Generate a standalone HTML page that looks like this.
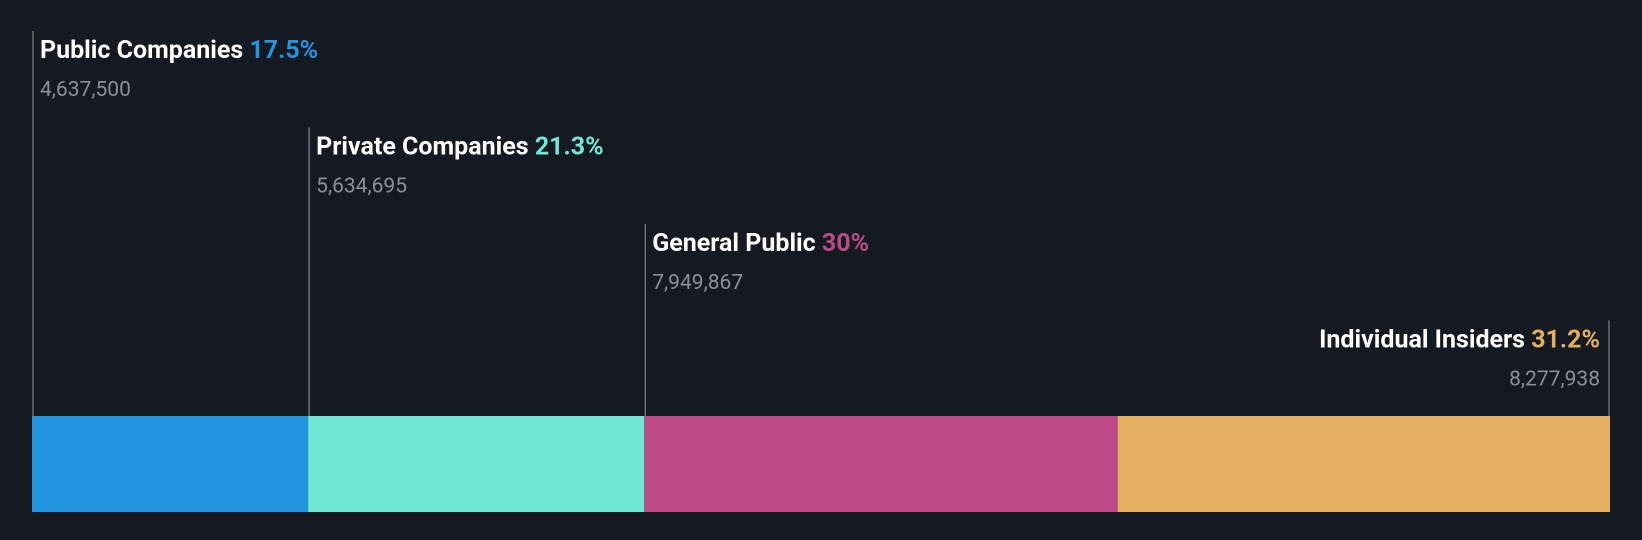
<!DOCTYPE html>
<html><head><meta charset="utf-8"><style>
html,body{margin:0;padding:0;background:#151a22;}
svg{display:block;font-family:"Roboto","Liberation Sans",sans-serif;}
</style></head><body>
<svg id="c" width="1642" height="540"></svg>
<script>
const categories=["Public Companies","Private Companies","General Public","Individual Insiders"];
const percents=[17.5,21.3,30,31.2];
const percentLabels=["17.5%","21.3%","30%","31.2%"];
const shares=["4,637,500","5,634,695","7,949,867","8,277,938"];
const colors=["#2394df","#71e7d6","#bc4a87","#e5af62"];
const svg=document.getElementById('c');
const NS="http://www.w3.org/2000/svg";
const x0=32,x1=1610,barTop=416,barBot=512;
const total=percents.reduce((a,b)=>a+b,0);
const xs=v=>x0+v/total*(x1-x0);
function mk(t,a){const e=document.createElementNS(NS,t);for(const k in a)e.setAttribute(k,a[k]);svg.appendChild(e);return e;}
let cum=0;
percents.forEach((p,i)=>{
  const a=xs(cum),b=xs(cum+p);cum+=p;
  const r=mk('rect',{x:a,y:barTop,width:b-a,height:barBot-barTop,fill:colors[i]});
  
  
  const last=i===percents.length-1;
  const lx=last?b-1:a+1;
  const top=31+i*96.5;
  const l=mk('line',{x1:lx,x2:lx,y1:top,y2:barTop,stroke:'#6b7078','stroke-width':1.5});
  
  
  const tx=last?lx-9:lx+7;
  const anchor=last?'end':'start';
  const t=mk('text',{x:tx,y:top+27,'font-size':25,'font-weight':'bold',fill:'#ffffff','text-anchor':anchor});
  
  
  t.textContent=categories[i]+' ';
  const sp=document.createElementNS(NS,'tspan');
  sp.setAttribute('fill',colors[i]);
  
  
  sp.textContent=percentLabels[i];
  t.appendChild(sp);
  const v=mk('text',{x:tx,y:top+65,'font-size':21,fill:'#8b8f96','text-anchor':anchor});
  
  
  v.textContent=shares[i];
});
</script>
</body></html>
